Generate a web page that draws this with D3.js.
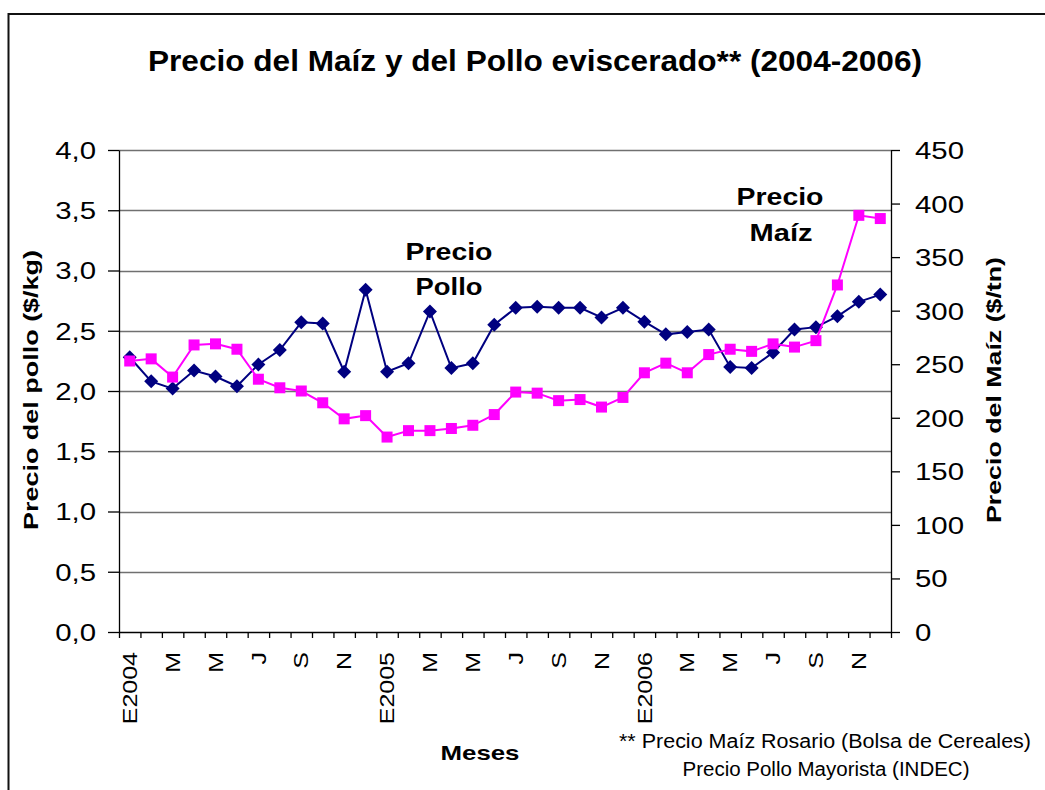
<!DOCTYPE html>
<html>
<head>
<meta charset="utf-8">
<script src="https://cdn.jsdelivr.net/npm/d3@7"></script>
<style>
  body { margin: 0; background: #fff; }
  svg { display: block; font-family: "Liberation Sans", Arial, sans-serif; }
</style>
</head>
<body>
<svg id="chart" width="1045" height="790"></svg>
<script>
// months Jan 2004 - Dec 2006
const meses = [
  'E2004','F','M','A','M','J','J','A','S','O','N','D',
  'E2005','F','M','A','M','J','J','A','S','O','N','D',
  'E2006','F','M','A','M','J','J','A','S','O','N','D'
]
// precio pollo eviscerado ($/kg), eje izquierdo
const pollo = [2.28, 2.08, 2.02, 2.17, 2.12, 2.04, 2.22, 2.34, 2.57, 2.56, 2.16, 2.84,
               2.16, 2.23, 2.66, 2.19, 2.23, 2.55, 2.69, 2.70, 2.69, 2.69, 2.61, 2.69,
               2.575, 2.47, 2.49, 2.51, 2.20, 2.19, 2.32, 2.51, 2.53, 2.62, 2.74, 2.80]
// precio maiz Rosario ($/tn), eje derecho
const maiz = [253, 255, 238, 268, 269, 264, 236, 228, 225, 214, 199, 202,
              182, 188, 188, 190, 193, 203, 224, 223, 216, 217, 210, 219,
              242, 251, 242, 259, 264, 262, 269, 266, 272, 324, 389, 386]
const ticksPollo = [0, 0.5, 1, 1.5, 2, 2.5, 3, 3.5, 4]
const ticksMaiz = [0, 50, 100, 150, 200, 250, 300, 350, 400, 450]

const svg = d3.select('#chart')
const plotL = 119, plotR = 891, plotT = 150, plotB = 632
const STRETCH = 1.25

// excel text looks wider than liberation, stretch it a bit
function stretch(sel, k) {
  sel.each(function() {
    const n = this.getComputedTextLength()
    d3.select(this).attr('textLength', n * k).attr('lengthAdjust', 'spacingAndGlyphs')
  })
}
function fit(sel, w) {
  sel.attr('textLength', w).attr('lengthAdjust', 'spacingAndGlyphs')
}

// outer frame
svg.append('path')
  .attr('d', 'M8.5,800V14H1050')
  .attr('fill', 'none').attr('stroke', '#111').attr('stroke-width', 2)

const x = d3.scaleBand().domain(d3.range(meses.length)).range([plotL, plotR]).padding(0)
const xTick = d3.scaleLinear().domain([0, meses.length]).range([plotL, plotR])
const yL = d3.scaleLinear().domain([0, 4]).range([plotB, plotT])
const yR = d3.scaleLinear().domain([0, 450]).range([plotB, plotT])
const cx = i => x(i) + x.bandwidth() / 2

// gridlines
svg.append('g').selectAll('line').data(ticksPollo.slice(1)).enter().append('line')
  .attr('x1', plotL).attr('x2', plotR)
  .attr('y1', d => Math.round(yL(d)) + 0.5).attr('y2', d => Math.round(yL(d)) + 0.5)
  .attr('stroke', '#707070').attr('stroke-width', 1.3)

// left axis
const axL = svg.append('g').attr('transform', `translate(${plotL},0)`)
  .call(d3.axisLeft(yL).tickValues(ticksPollo).tickSize(11).tickSizeOuter(0).tickPadding(12)
    .tickFormat(d => d3.format('.1f')(d).replace('.', ',')))
axL.selectAll('text').attr('font-size', 23.5).attr('fill', '#000').attr('font-family', 'Liberation Sans').attr('dy', '0.36em')
axL.selectAll('line, path').attr('stroke', '#000').attr('stroke-width', 1.3)
stretch(axL.selectAll('text'), STRETCH)

// right axis
const axR = svg.append('g').attr('transform', `translate(${plotR},0)`)
  .call(d3.axisRight(yR).tickValues(ticksMaiz).tickSize(9).tickSizeOuter(0).tickPadding(15))
axR.selectAll('text').attr('font-size', 23.5).attr('fill', '#000').attr('font-family', 'Liberation Sans').attr('dy', '0.36em')
axR.selectAll('line, path').attr('stroke', '#000').attr('stroke-width', 1.3)
stretch(axR.selectAll('text'), STRETCH)

// bottom axis, ticks at month boundaries
const axB = svg.append('g').attr('transform', `translate(0,${plotB})`)
  .call(d3.axisBottom(xTick).tickValues(d3.range(meses.length + 1)).tickSize(6).tickSizeOuter(0).tickFormat(''))
axB.selectAll('line, path').attr('stroke', '#000').attr('stroke-width', 1.3)

// month labels every two months
const etiquetas = svg.append('g').selectAll('text')
  .data(meses.map((m, i) => ({m, i})).filter(d => d.i % 2 === 0))
  .enter().append('text')
  .attr('transform', d => `translate(${cx(d.i)},652) rotate(-90)`)
  .attr('text-anchor', 'end').attr('dy', '0.36em')
  .attr('font-size', 20)
  .text(d => d.m)
stretch(etiquetas, STRETCH)

// series
const linePollo = d3.line().x((d, i) => cx(i)).y(d => yL(d))
const lineMaiz = d3.line().x((d, i) => cx(i)).y(d => yR(d))

svg.append('path').datum(pollo).attr('d', linePollo)
  .attr('fill', 'none').attr('stroke', '#000080').attr('stroke-width', 2)
svg.append('g').selectAll('path').data(pollo).enter().append('path')
  .attr('d', (d, i) => `M${cx(i)},${yL(d) - 7}l7,7l-7,7l-7,-7z`)
  .attr('fill', '#000080')

svg.append('path').datum(maiz).attr('d', lineMaiz)
  .attr('fill', 'none').attr('stroke', '#ff00ff').attr('stroke-width', 2)
svg.append('g').selectAll('rect').data(maiz).enter().append('rect')
  .attr('x', (d, i) => cx(i) - 5.5).attr('y', d => yR(d) - 5.5)
  .attr('width', 11).attr('height', 11)
  .attr('fill', '#ff00ff')

// title
svg.append('text').attr('x', 535).attr('y', 71).attr('text-anchor', 'middle')
  .attr('font-size', 30).attr('font-weight', 'bold')
  .text('Precio del Maíz y del Pollo eviscerado** (2004-2006)')
  .call(fit, 774)

// axis titles
svg.append('text').attr('transform', 'translate(30,390) rotate(-90)')
  .attr('text-anchor', 'middle').attr('dy', '0.36em')
  .attr('font-size', 21).attr('font-weight', 'bold')
  .text('Precio del pollo ($/kg)').call(fit, 280)
svg.append('text').attr('transform', 'translate(993,390) rotate(-90)')
  .attr('text-anchor', 'middle').attr('dy', '0.36em')
  .attr('font-size', 21).attr('font-weight', 'bold')
  .text('Precio del Maíz ($/tn)').call(fit, 266)
svg.append('text').attr('x', 480).attr('y', 760).attr('text-anchor', 'middle')
  .attr('font-size', 21).attr('font-weight', 'bold')
  .text('Meses').call(fit, 79)

// annotations
const notas = [
  {t: 'Precio', x: 449, y: 260, w: 87},
  {t: 'Pollo', x: 449, y: 295, w: 67},
  {t: 'Precio', x: 780, y: 205, w: 87},
  {t: 'Maíz', x: 781, y: 241, w: 63}
]
svg.append('g').selectAll('text').data(notas).enter().append('text')
  .attr('x', d => d.x).attr('y', d => d.y).attr('text-anchor', 'middle')
  .attr('font-size', 24).attr('font-weight', 'bold')
  .attr('textLength', d => d.w).attr('lengthAdjust', 'spacingAndGlyphs')
  .text(d => d.t)

// footnote
svg.append('text').attr('x', 825).attr('y', 748).attr('text-anchor', 'middle')
  .attr('font-size', 19.5)
  .text('** Precio Maíz Rosario (Bolsa de Cereales)').call(fit, 412)
svg.append('text').attr('x', 826).attr('y', 776).attr('text-anchor', 'middle')
  .attr('font-size', 19.5)
  .text('Precio Pollo Mayorista (INDEC)').call(fit, 287)
</script>
</body>
</html>
